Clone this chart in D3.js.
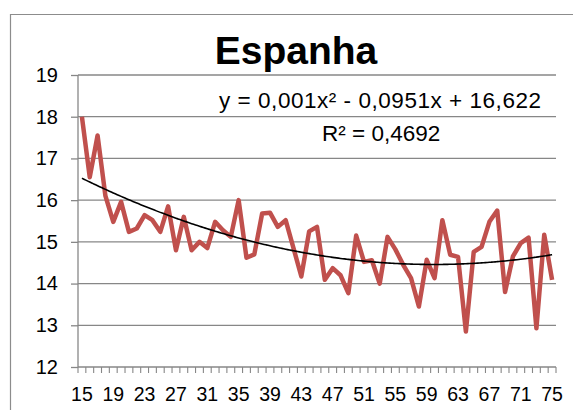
<!DOCTYPE html>
<html><head><meta charset="utf-8">
<script src="https://cdn.jsdelivr.net/npm/d3@7"></script>
<style>body{margin:0;background:#fff}svg{display:block}text{font-family:"Liberation Sans",Arial,sans-serif}</style>
</head><body><svg id="c" width="573" height="410"></svg>
<script>
const categories = [15,16,17,18,19,20,21,22,23,24,25,26,27,28,29,30,31,32,33,34,35,36,37,38,39,40,41,42,43,44,45,46,47,48,49,50,51,52,53,54,55,56,57,58,59,60,61,62,63,64,65,66,67,68,69,70,71,72,73,74,75];
const values = [18.0,16.55,17.55,16.1,15.48,15.96,15.24,15.32,15.64,15.52,15.24,15.85,14.8,15.6,14.8,15.0,14.85,15.48,15.28,15.12,16.0,14.62,14.7,15.68,15.7,15.36,15.52,14.85,14.17,15.25,15.36,14.09,14.37,14.2,13.77,15.15,14.52,14.56,14.0,15.12,14.82,14.45,14.13,13.45,14.57,14.13,15.52,14.69,14.64,12.85,14.76,14.88,15.48,15.75,13.8,14.65,14.97,15.1,12.93,15.17,14.09];
const xTickLabels = [15,19,23,27,31,35,39,43,47,51,55,59,63,67,71,75];
const yTicks = [12,13,14,15,16,17,18,19];
const titleText = "Espanha";
const eqText = "y = 0,001x² - 0,0951x + 16,622";
const r2Text = "R² = 0,4692";

const svg = d3.select("#c");
const L = 78, R = 556, T = 75, B = 367;
const x = d3.scaleBand().domain(categories).range([L, R]).padding(0);
const y = d3.scaleLinear().domain([12, 19]).range([B, T]);
const cx = c => x(c) + x.bandwidth() / 2;
const grid = "#878787";

// outer frame
svg.append("path").attr("d", "M10.5,410 V14.5 H573").attr("fill", "none").attr("stroke", "#8c8c8c").attr("stroke-width", 1.2);

// gridlines
svg.append("g").selectAll("line").data(yTicks).join("line")
  .attr("x1", L).attr("x2", R).attr("y1", d => y(d)).attr("y2", d => y(d))
  .attr("stroke", grid).attr("stroke-width", 1.3);

// y axis
const ya = svg.append("g").attr("transform", `translate(${L},0)`)
  .call(d3.axisLeft(y).tickValues(yTicks).tickSize(7).tickPadding(13).tickFormat(d3.format("d")));
ya.select(".domain").attr("stroke", grid).attr("stroke-width", 1.3).attr("d", `M0,${T}V${B}`);
ya.selectAll(".tick line").attr("stroke", grid).attr("stroke-width", 1.3);
ya.selectAll("text").attr("font-size", 20).attr("fill", "#000").attr("font-family", "Liberation Sans");

// x axis labels
const xa = svg.append("g").attr("transform", `translate(0,${B})`)
  .call(d3.axisBottom(x).tickValues(xTickLabels).tickSize(0).tickPadding(20));
xa.select(".domain").remove();
xa.selectAll("text").attr("font-size", 19.5).attr("fill", "#000").attr("font-family", "Liberation Sans");
// x boundary ticks
const bounds = categories.map(c => x(c)).concat([x(categories[categories.length - 1]) + x.bandwidth()]);
svg.append("g").selectAll("line").data(bounds).join("line")
  .attr("x1", d => d).attr("x2", d => d).attr("y1", B).attr("y2", B + 6)
  .attr("stroke", grid).attr("stroke-width", 1.1);

// data line
svg.append("path").datum(categories.map((c, i) => [cx(c), y(values[i])]))
  .attr("d", d3.line()).attr("fill", "none").attr("stroke", "#C0504D")
  .attr("stroke-width", 4.5).attr("stroke-linejoin", "round").attr("stroke-linecap", "butt");

// polynomial trendline (least squares, order 2, x = category index 1..n)
function polyfit(xs, ys) {
  let S = [0,0,0,0,0], Ty = [0,0,0];
  xs.forEach((xv, i) => { for (let k = 0; k < 5; k++) S[k] += Math.pow(xv, k); for (let k = 0; k < 3; k++) Ty[k] += Math.pow(xv, k) * ys[i]; });
  const A = [[S[0],S[1],S[2],Ty[0]],[S[1],S[2],S[3],Ty[1]],[S[2],S[3],S[4],Ty[2]]];
  for (let i = 0; i < 3; i++) { for (let j = i + 1; j < 3; j++) { const f = A[j][i] / A[i][i]; for (let k = i; k < 4; k++) A[j][k] -= f * A[i][k]; } }
  const c = [0,0,0];
  for (let i = 2; i >= 0; i--) { let s = A[i][3]; for (let k = i + 1; k < 3; k++) s -= A[i][k] * c[k]; c[i] = s / A[i][i]; }
  return c;
}
const idx = categories.map((c, i) => i + 1);
const coef = polyfit(idx, values);
const trend = [];
for (let t = 1; t <= categories.length; t += 0.25) {
  const px = cx(categories[0]) + (t - 1) * x.bandwidth();
  trend.push([px, y(coef[0] + coef[1] * t + coef[2] * t * t)]);
}
svg.append("path").datum(trend).attr("d", d3.line().curve(d3.curveBasis))
  .attr("fill", "none").attr("stroke", "#000").attr("stroke-width", 1.6);

// title and labels
svg.append("text").attr("x", 296).attr("y", 64).attr("text-anchor", "middle")
  .attr("font-size", 39).attr("font-weight", "bold").text(titleText);
svg.append("text").attr("x", 219).attr("y", 108).attr("font-size", 22.5).attr("textLength", 322).text(eqText);
svg.append("text").attr("x", 322).attr("y", 141).attr("font-size", 22.5).text(r2Text);
</script></body></html>
